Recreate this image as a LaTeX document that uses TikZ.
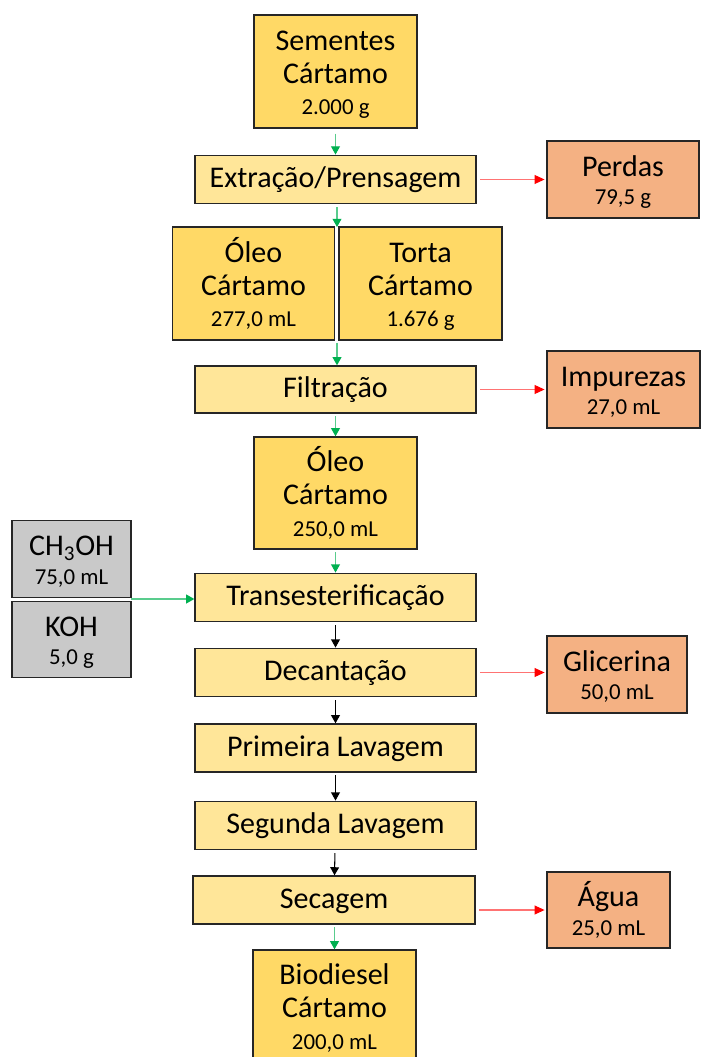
\documentclass[tikz,border=0pt]{standalone}
\usepackage{fontspec}
\setmainfont{Carlito}
\usepackage{tikz}
\usetikzlibrary{arrows.meta,positioning}

\definecolor{seedgold}{HTML}{FFD966}
\definecolor{stagefill}{HTML}{FFE699}
\definecolor{lossfill}{HTML}{F4B183}
\definecolor{reagfill}{HTML}{C9C9C9}
\definecolor{flowgreen}{HTML}{00B050}
\definecolor{flowred}{HTML}{FF0000}

\newcommand{\bigtxt}{\fontsize{17.1}{18.7}\selectfont}
\newcommand{\smalltxt}{\fontsize{13}{15}\selectfont}
% struts so that lines sit as in the slide
\newcommand{\tstrut}{\rule{0pt}{15.5pt}}
\newcommand{\bstrut}{\rule[-3pt]{0pt}{0pt}}

\begin{document}
\begin{tikzpicture}[
  x=0.02cm,y=-0.02cm,
  box/.style={rectangle,draw=black!85,line width=0.8pt,inner sep=0pt,
              align=center,font=\bigtxt},
  prod/.style={box,fill=seedgold,minimum width=3.26cm,minimum height=2.26cm},
  stage/.style={box,fill=stagefill,minimum width=5.62cm,minimum height=0.97cm,
                text height=12.5pt,text depth=3pt},
  loss/.style={box,fill=lossfill,minimum height=1.54cm},
  reag/.style={box,fill=reagfill,minimum width=2.38cm,minimum height=1.53cm},
  flow/.style={draw=flowgreen!65,line width=0.6pt,shorten <=1.5pt,
               -{Triangle[length=4.6pt,width=5pt,color=flowgreen]}},
  main/.style={draw=black,line width=0.6pt,shorten <=1.5pt,
               -{Triangle[length=4.6pt,width=5pt]}},
  waste/.style={draw=flowred!55,line width=0.6pt,shorten <=2pt,shorten >=1pt,
              -{Triangle[length=5.6pt,width=5pt,color=flowred]}}
]
  \useasboundingbox (0,0) rectangle (700,1057);

  % main line
  \node[prod] (seeds) at (335.5,71.5) {\tstrut Sementes\\Cártamo\\[-0.6pt]{\smalltxt 2.000 g\bstrut}};
  \node[stage] (press) at (335.5,179.5) {Extração/Prensagem};
  \node[prod,minimum width=3.24cm] (oil) at (253.5,283.5) {\tstrut Óleo\\Cártamo\\[-0.6pt]{\smalltxt 277,0 mL\bstrut}};
  \node[prod] (cake) at (420.5,283.5) {\tstrut Torta\\Cártamo\\[-0.6pt]{\smalltxt 1.676 g\bstrut}};
  \node[stage,minimum height=0.94cm] (filter) at (335.5,389.5) {Filtração};
  \node[prod,minimum height=2.24cm] (oilb) at (335.5,493) {\tstrut Óleo\\Cártamo\\[-0.6pt]{\smalltxt 250,0 mL\bstrut}};
  \node[stage] (trans) at (335.5,597.5) {Transesterificação};
  \node[stage] (decant) at (335.5,672.5) {Decantação};
  \node[stage,minimum height=0.96cm] (wash1) at (335.5,748) {Primeira Lavagem};
  \node[stage] (wash2) at (335.5,825.5) {Segunda Lavagem};
  \node[stage,minimum width=5.64cm,minimum height=0.96cm] (dry) at (334,900) {Secagem};
  \node[prod,minimum height=2.24cm] (biod) at (334.5,1006) {\tstrut Biodiesel\\Cártamo\\[-0.6pt]{\smalltxt 200,0 mL\bstrut}};

  % side boxes
  \node[loss,minimum width=3.04cm] (losses) at (623,179.5) {\tstrut Perdas\\[-2.5pt]{\smalltxt 79,5 g\bstrut}};
  \node[loss,minimum width=3.06cm] (impur) at (623.5,389.5) {\tstrut Impurezas\\[-2.5pt]{\smalltxt 27,0 mL\bstrut}};
  \node[loss,minimum width=2.8cm] (glyc) at (617,674.5) {\tstrut Glicerina\\[-2.5pt]{\smalltxt 50,0 mL\bstrut}};
  \node[loss,minimum width=2.46cm,minimum height=1.52cm] (water) at (608.5,910) {\tstrut Água\\[-2.5pt]{\smalltxt 25,0 mL\bstrut}};
  \node[reag] (meoh) at (71.5,559) {\tstrut CH\textsubscript{3}OH\\[-2.5pt]{\smalltxt 75,0 mL\bstrut}};
  \node[reag] (koh) at (71.5,639.5) {\tstrut KOH\\[-2.5pt]{\smalltxt 5,0 g\bstrut}};

  \coordinate (split) at (337,227);
  \coordinate (splitb) at (337,340);
  \coordinate (feed) at (131,599);

  \draw[flow,shorten <=2.8pt] (seeds) -- (press);
  \draw[flow] (press.south -| split) -- (split);
  \draw[flow] (splitb) -- (filter.north -| splitb);
  \draw[flow] (filter) -- (oilb);
  \draw[flow] (oilb) -- (trans);
  \draw[flow,shorten <=0pt] (feed) -- (feed -| trans.west);
  \draw[main] (trans) -- (decant);
  \draw[main] (decant) -- (wash1);
  \draw[main] (wash1) -- (wash2);
  \draw[main] (wash2) -- (dry);
  \draw[flow] (dry.south -| biod) -- (biod);

  \draw[waste] (press) -- (losses);
  \draw[waste] (filter) -- (impur);
  \draw[waste] (decant.east) -- (decant.east -| glyc.west);
  \draw[waste] (water.west -| dry.east) -- (water.west);
\end{tikzpicture}
\end{document}
